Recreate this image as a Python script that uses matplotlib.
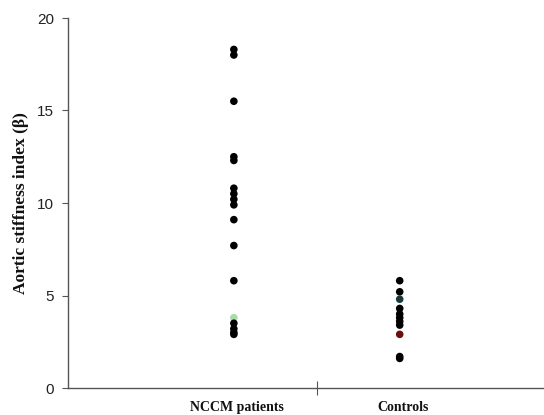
import matplotlib
matplotlib.use("Agg")
import matplotlib.pyplot as plt

# values
groups = ["NCCM patients", "Controls"]
nccm = [18.3, 18.0, 15.5, 12.5, 12.3, 10.8, 10.5, 10.2, 9.9, 9.1, 7.7,
        5.8, 3.8, 3.5, 3.2, 3.0, 2.9]
nccm_colors = ["black"] * 12 + ["#a8dca8"] + ["black"] * 4
controls = [5.8, 5.2, 4.8, 4.3, 4.0, 3.8, 3.6, 3.4, 2.9, 1.7, 1.6]
controls_colors = ["black", "black", "#1a3a3a", "black", "black", "black",
                   "black", "black", "#6a1010", "black", "black"]
yticks = [0, 5, 10, 15, 20]

AXIS = "#555555"

fig = plt.figure(figsize=(5.44, 4.15), dpi=100)
ax = fig.add_axes([68 / 544, 27 / 415, 1 - 68 / 544, 370 / 415])

ax.scatter([1] * len(nccm), nccm, s=30, c=nccm_colors, linewidths=0, zorder=3)
ax.scatter([2] * len(controls), controls, s=30, c=controls_colors,
           linewidths=0, zorder=3)

ax.set_xlim(0, 2.87)
ax.set_ylim(0, 20)

for side in ("top", "right"):
    ax.spines[side].set_visible(False)
for side in ("left", "bottom"):
    ax.spines[side].set_color(AXIS)
    ax.spines[side].set_linewidth(1.0)

ax.set_yticks(yticks)
ax.set_yticklabels([str(t) for t in yticks], fontsize=11,
                   family="Liberation Sans")
ax.tick_params(axis="y", length=4, color=AXIS, pad=6, labelcolor="#222222")

# separator tick between the groups, labels without ticks
ax.set_xticks([1.5])
ax.set_xticklabels([""])
ax.tick_params(axis="x", which="major", direction="inout", length=10,
               color=AXIS)
ax.set_xticks([1.02, 2.02], minor=True)
ax.set_xticklabels(groups, minor=True, fontsize=10, fontweight="bold",
                   family="Liberation Serif")
ax.tick_params(axis="x", which="minor", length=0, pad=9,
               labelcolor="#111111")

ax.set_ylabel("Aortic stiffness index (\u03b2)", fontsize=12.5,
              fontweight="bold", family="Liberation Serif", color="#111111")
ax.yaxis.set_label_coords(-0.082, 0.5)

fig.savefig("out.png", dpi=100, facecolor="white")
